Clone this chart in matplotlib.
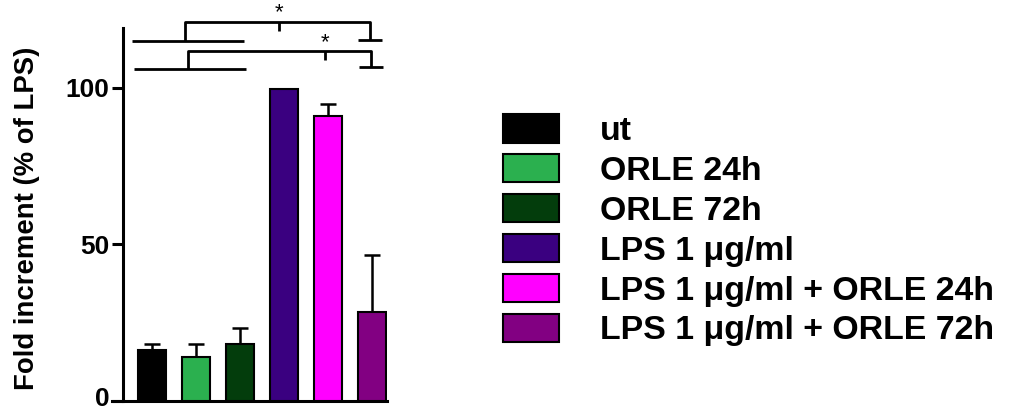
import matplotlib
matplotlib.use("Agg")
import matplotlib.pyplot as plt
import matplotlib.transforms as mtransforms
import numpy as np

plt.rcParams['font.family'] = ['Liberation Sans', 'DejaVu Sans']
plt.rcParams['font.weight'] = 'bold'

categories = ["ut", "ORLE 24h", "ORLE 72h", "LPS 1 μg/ml",
              "LPS 1 μg/ml + ORLE 24h", "LPS 1 μg/ml + ORLE 72h"]
values = [16.3, 14.1, 18.2, 99.5, 91.0, 28.3]
errors = [2.0, 4.2, 5.1, 0.0, 3.6, 18.2]
colors = ["#000000", "#2bb04f", "#033d0c", "#3a0080", "#ff00ff", "#820082"]
yticks = [0, 50, 100]

# significance brackets
brackets = [
    dict(grp=(-0.45, 2.09), leg_l=0.76, leg_r=4.95, short=(4.68, 5.23), top=121.0, low_l=115.0, low_r=115.3, star=2.88),
    dict(grp=(-0.40, 2.15), leg_l=0.83, leg_r=4.97, short=(4.71, 5.25), top=111.6, low_l=106.0, low_r=106.4, star=3.93),
]

W, H = 1020, 412
fig = plt.figure(figsize=(W / 100, H / 100), dpi=100)
ax_left, ax_right, ax_bottom_px = 112, 387, 401
ax = fig.add_axes([ax_left / W, (H - ax_bottom_px) / H, (ax_right - ax_left) / W, 373 / H])

x = np.arange(len(categories))
bars = ax.bar(x, values, width=0.64, color=colors, edgecolor="black", linewidth=1.5, zorder=3)
for xi, v, e in zip(x, values, errors):
    if e > 0:
        ax.errorbar(xi, v, yerr=[[0], [e]], fmt="none", ecolor="black",
                    elinewidth=1.8, capsize=6, capthick=1.8, zorder=2)

ax.set_xlim(-0.90, 5.34)
ax.set_ylim(0, 119)
ax.spines['top'].set_visible(False)
ax.spines['right'].set_visible(False)
ax.spines['left'].set_position(('data', -0.65))
ax.spines['left'].set_linewidth(2.2)
ax.spines['bottom'].set_linewidth(2.2)
ax.set_xticks([])
ax.set_yticks(yticks)
ax.tick_params(axis='y', length=8, width=2.2, labelsize=19, pad=2)
for lab in ax.get_yticklabels():
    lab.set_fontweight('bold')
    lab.set_verticalalignment('center_baseline')
zero_tick = ax.yaxis.get_major_ticks()[0]
zero_tick.label1.set_transform(zero_tick.label1.get_transform() +
                               mtransforms.ScaledTranslation(0, 3 / 72, fig.dpi_scale_trans))

ax.set_ylabel("Fold increment (% of LPS)", fontsize=19.8, fontweight='bold')
ax.yaxis.label.set_verticalalignment('center')
ax.yaxis.set_label_coords(-0.31, 0.49)

lw = 2.0
for b in brackets:
    kw = dict(color="black", linewidth=lw, clip_on=False, solid_capstyle='butt')
    ax.plot([b['grp'][0], b['grp'][1]], [b['low_l'], b['low_l']], **kw)
    ax.plot([b['leg_l'], b['leg_l'], b['leg_r'], b['leg_r']],
            [b['low_l'], b['top'], b['top'], b['low_r']], **kw)
    ax.plot([b['short'][0], b['short'][1]], [b['low_r'], b['low_r']], **kw)
    ax.plot([b['star'], b['star']], [b['top'], b['top'] - 2.8], **kw)
    ax.text(b['star'], b['top'] - 0.5, "*", ha='center', va='bottom', fontsize=16,
            fontweight='normal', clip_on=False)

leg = fig.legend(bars, categories, loc='upper left', bbox_to_anchor=(503 / W, 1 - 114 / H),
                 frameon=False, fontsize=24.4, handlelength=1.65, handleheight=0.92,
                 handletextpad=1.2, labelspacing=0.205, borderaxespad=0, borderpad=0)
for t in leg.get_texts():
    t.set_fontweight('bold')

fig.savefig("out.png", dpi=100)
